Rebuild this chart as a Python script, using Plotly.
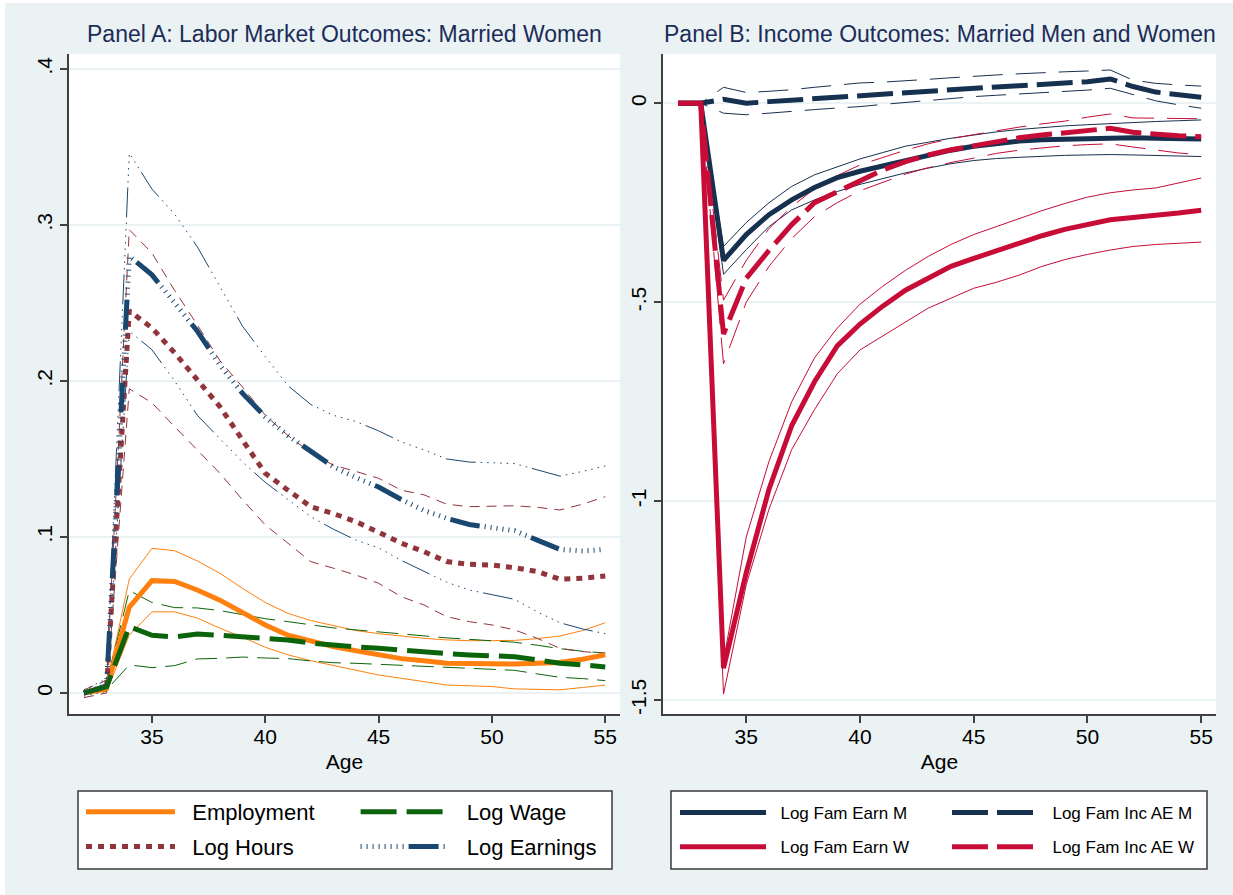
import plotly.graph_objects as go

ages = list(range(32, 56))

# ---------------- Panel A: Labor market outcomes, married women ----------------
employment = [0, 0.003, 0.055, 0.072, 0.0715, 0.066, 0.0595, 0.052, 0.0436, 0.037, 0.033, 0.0297,
              0.027, 0.0244, 0.022, 0.0207, 0.019, 0.0188, 0.0186, 0.0186, 0.019, 0.0195, 0.0216, 0.0244]
employment_hi = [0.001, 0.005, 0.073, 0.0927, 0.0912, 0.0846, 0.0767, 0.067, 0.058, 0.051, 0.0464, 0.043,
                 0.040, 0.038, 0.0365, 0.035, 0.034, 0.0335, 0.0335, 0.0337, 0.0348, 0.0365, 0.040, 0.045]
employment_lo = [-0.001, 0.001, 0.037, 0.052, 0.052, 0.048, 0.0415, 0.0357, 0.0293, 0.0244, 0.0207, 0.0175,
                 0.0147, 0.0115, 0.0094, 0.0073, 0.0051, 0.0046, 0.0041, 0.0026, 0.0025, 0.002, 0.0035, 0.005]

log_wage = [0, 0.004, 0.0425, 0.037, 0.0359, 0.0378, 0.037, 0.036, 0.0348, 0.034, 0.032, 0.0305,
            0.0295, 0.0286, 0.0273, 0.026, 0.0252, 0.0244, 0.024, 0.0232, 0.0212, 0.019, 0.018, 0.0167]
log_wage_hi = [0.001, 0.006, 0.0656, 0.058, 0.0547, 0.0545, 0.0528, 0.050, 0.0476, 0.0457, 0.0436, 0.0417,
               0.0404, 0.039, 0.0377, 0.0366, 0.0353, 0.0345, 0.0335, 0.0325, 0.0306, 0.0284, 0.0267, 0.0256]
log_wage_lo = [-0.001, 0.002, 0.018, 0.0162, 0.0175, 0.0218, 0.0222, 0.023, 0.0224, 0.022, 0.0205, 0.0194,
               0.019, 0.0184, 0.0175, 0.0171, 0.0162, 0.0157, 0.0152, 0.0145, 0.0122, 0.010, 0.0092, 0.0079]

log_hours = [0, 0.004, 0.245, 0.234, 0.218, 0.201, 0.1835, 0.162, 0.1408, 0.130, 0.1194, 0.115,
             0.1098, 0.103, 0.096, 0.0906, 0.0842, 0.0825, 0.082, 0.0803, 0.0778, 0.0729, 0.0735, 0.075]
log_hours_hi = [0.002, 0.008, 0.297, 0.282, 0.258, 0.236, 0.213, 0.196, 0.178, 0.165, 0.154, 0.146,
                0.142, 0.1376, 0.130, 0.127, 0.121, 0.1194, 0.1197, 0.120, 0.119, 0.1173, 0.121, 0.1258]
log_hours_lo = [-0.003, 0.0, 0.195, 0.186, 0.1707, 0.1558, 0.1408, 0.1237, 0.1077, 0.096, 0.0842, 0.080,
                0.0756, 0.0703, 0.0617, 0.0564, 0.0489, 0.0457, 0.0436, 0.0404, 0.035, 0.0286, 0.0265, 0.0254]

log_earn = [0, 0.005, 0.28, 0.268, 0.25, 0.232, 0.21, 0.192, 0.177, 0.165, 0.155, 0.145,
            0.138, 0.132, 0.124, 0.117, 0.112, 0.108, 0.106, 0.104, 0.098, 0.092, 0.091, 0.092]
log_earn_hi = [0.002, 0.009, 0.346, 0.323, 0.307, 0.286, 0.2605, 0.235, 0.2156, 0.197, 0.185, 0.178,
               0.174, 0.168, 0.161, 0.1558, 0.150, 0.148, 0.1476, 0.147, 0.143, 0.139, 0.142, 0.1455]
log_earn_lo = [-0.002, 0.001, 0.232, 0.22, 0.2, 0.178, 0.163, 0.148, 0.135, 0.124, 0.113, 0.105,
               0.098, 0.093, 0.085, 0.078, 0.071, 0.066, 0.063, 0.060, 0.052, 0.045, 0.041, 0.038]

# ---------------- Panel B: Income outcomes, married men and women ----------------
fam_earn_m = [0, 0, -0.395, -0.33, -0.28, -0.243, -0.212, -0.187, -0.171, -0.157, -0.143, -0.13,
              -0.118, -0.108, -0.1, -0.095, -0.092, -0.09, -0.088, -0.087, -0.087, -0.088, -0.089, -0.09]
fam_earn_m_hi = [0, 0, -0.36, -0.30, -0.25, -0.209, -0.18, -0.159, -0.14, -0.124, -0.108, -0.098,
                 -0.088, -0.08, -0.072, -0.066, -0.061, -0.057, -0.054, -0.051, -0.048, -0.046, -0.044, -0.042]
fam_earn_m_lo = [0, 0, -0.43, -0.368, -0.31, -0.268, -0.243, -0.222, -0.204, -0.19, -0.175, -0.163,
                 -0.152, -0.144, -0.139, -0.136, -0.133, -0.131, -0.13, -0.129, -0.13, -0.131, -0.133, -0.134]

fam_inc_m = [0, 0, 0.010, 0.0, 0.004, 0.008, 0.012, 0.015, 0.018, 0.022, 0.026, 0.030,
             0.034, 0.038, 0.041, 0.044, 0.047, 0.050, 0.054, 0.061, 0.042, 0.028, 0.020, 0.015]
fam_inc_m_hi = [0, 0, 0.040, 0.027, 0.030, 0.034, 0.040, 0.046, 0.051, 0.053, 0.056, 0.060,
                0.064, 0.068, 0.071, 0.074, 0.077, 0.079, 0.081, 0.0835, 0.058, 0.050, 0.046, 0.043]
fam_inc_m_lo = [0, 0, -0.025, -0.029, -0.025, -0.02, -0.016, -0.012, -0.0085, -0.003, 0.002, 0.007,
                0.012, 0.0166, 0.02, 0.023, 0.027, 0.03, 0.033, 0.0376, 0.021, 0.006, -0.004, -0.0126]

fam_earn_w = [0, 0, -1.42, -1.18, -0.97, -0.81, -0.70, -0.61, -0.555, -0.51, -0.47, -0.44,
              -0.41, -0.39, -0.37, -0.35, -0.333, -0.317, -0.304, -0.293, -0.287, -0.283, -0.276, -0.269]
fam_earn_w_hi = [0, 0, -1.40, -1.09, -0.90, -0.75, -0.64, -0.565, -0.505, -0.46, -0.42, -0.385,
                 -0.355, -0.33, -0.31, -0.29, -0.27, -0.252, -0.236, -0.225, -0.218, -0.213, -0.20, -0.188]
fam_earn_w_lo = [0, 0, -1.485, -1.21, -1.02, -0.87, -0.77, -0.68, -0.62, -0.585, -0.548, -0.515,
                 -0.49, -0.465, -0.45, -0.432, -0.41, -0.393, -0.38, -0.369, -0.36, -0.355, -0.352, -0.349]

fam_inc_w = [0, 0, -0.58, -0.44, -0.37, -0.305, -0.25, -0.222, -0.193, -0.168, -0.147, -0.13,
             -0.117, -0.106, -0.095, -0.087, -0.08, -0.074, -0.069, -0.063, -0.073, -0.079, -0.082, -0.084]
fam_inc_w_hi = [0, 0, -0.495, -0.395, -0.315, -0.26, -0.215, -0.182, -0.155, -0.137, -0.118, -0.102,
                -0.089, -0.079, -0.069, -0.06, -0.052, -0.045, -0.035, -0.027, -0.037, -0.038, -0.039, -0.039]
fam_inc_w_lo = [0, 0, -0.655, -0.50, -0.41, -0.34, -0.285, -0.25, -0.22, -0.198, -0.178, -0.162,
                -0.149, -0.138, -0.126, -0.118, -0.112, -0.107, -0.104, -0.102, -0.11, -0.118, -0.125, -0.13]

x_ticks = [35, 40, 45, 50, 55]
yA_ticks = [0, 0.1, 0.2, 0.3, 0.4]
yA_text = ["0", ".1", ".2", ".3", ".4"]
yB_ticks = [0, -0.5, -1, -1.5]
yB_text = ["0", "-.5", "-1", "-1.5"]

# ---------------- styles ----------------
FONT = "Liberation Sans, Arial, Helvetica, sans-serif"
BG = "#EAF2F3"
AXIS = "#404040"
ORANGE = "#FF800E"
GREEN = "#0B640B"
MAROON = "#90353B"
BLUE = "#1A476F"
NAVY = "#16304F"
CRIMSON = "#C60C37"

DOTTICK = "1px,5px," * 8 + "30px,5px"
DOTTICK_THIN = "1.5px,5px," * 8 + "30px,5px"

fig = go.Figure()


def add(x, y, color, width, dash, xa, ya, name=None, legend=None, pad=""):
    fig.add_trace(go.Scatter(
        x=x, y=y, mode="lines", xaxis=xa, yaxis=ya,
        line=dict(color=color, width=width, dash=dash),
        name=(pad + name) if name else "", showlegend=bool(name),
        legend=legend if legend else "legend",
        legendgroup=name if name else None,
        hoverinfo="skip"))


NB_A = "\u00a0\u00a0"
NB_B = "\u00a0\u00a0"

# Panel A confidence bands
add(ages, employment_hi, ORANGE, 1, "solid", "x", "y")
add(ages, employment_lo, ORANGE, 1, "solid", "x", "y")
add(ages, log_wage_hi, GREEN, 1, "22px,9px", "x", "y")
add(ages, log_wage_lo, GREEN, 1, "22px,9px", "x", "y")
add(ages, log_hours_hi, MAROON, 1, "10px,7px", "x", "y")
add(ages, log_hours_lo, MAROON, 1, "10px,7px", "x", "y")
add(ages, log_earn_hi, BLUE, 1, DOTTICK_THIN, "x", "y")
add(ages, log_earn_lo, BLUE, 1, DOTTICK_THIN, "x", "y")
# Panel A point estimates
add(ages, employment, ORANGE, 5, "solid", "x", "y", "Employment", "legend", NB_A)
add(ages, log_hours, MAROON, 5, "6px,6px", "x", "y", "Log Hours", "legend", NB_A)
add(ages, log_wage, GREEN, 5, "36px,10px", "x", "y", "Log Wage", "legend2", NB_A)
add(ages, log_earn, BLUE, 5, DOTTICK, "x", "y", "Log Earnings", "legend2", NB_A)

# Panel B confidence bands
add(ages, fam_earn_m_hi, NAVY, 1, "solid", "x2", "y2")
add(ages, fam_earn_m_lo, NAVY, 1, "solid", "x2", "y2")
add(ages, fam_inc_m_hi, NAVY, 1, "30px,13px", "x2", "y2")
add(ages, fam_inc_m_lo, NAVY, 1, "30px,13px", "x2", "y2")
add(ages, fam_earn_w_hi, CRIMSON, 1, "solid", "x2", "y2")
add(ages, fam_earn_w_lo, CRIMSON, 1, "solid", "x2", "y2")
add(ages, fam_inc_w_hi, CRIMSON, 1, "30px,13px", "x2", "y2")
add(ages, fam_inc_w_lo, CRIMSON, 1, "30px,13px", "x2", "y2")
# Panel B point estimates
add(ages, fam_earn_m, NAVY, 5, "solid", "x2", "y2", "Log Fam Earn M", "legend3", NB_B)
add(ages, fam_earn_w, CRIMSON, 5, "solid", "x2", "y2", "Log Fam Earn W", "legend3", NB_B)
add(ages, fam_inc_m, NAVY, 5, "36px,9px", "x2", "y2", "Log Fam Inc AE M", "legend4", NB_B)
add(ages, fam_inc_w, CRIMSON, 5, "36px,9px", "x2", "y2", "Log Fam Inc AE W", "legend4", NB_B)

W, H = 1233, 895
ydom = [(H - 714) / H, (H - 54) / H]


def xaxis(dom):
    return dict(domain=dom, range=[31.34, 55.65], tickvals=x_ticks, ticks="outside", ticklen=7,
                tickwidth=1.5, tickcolor=AXIS, showline=True, linecolor=AXIS, linewidth=1.5,
                showgrid=False, zeroline=False, tickfont=dict(size=21, color="black"),
                ticklabelstandoff=-4,
                title=dict(text="Age", font=dict(size=21, color="black"), standoff=7))


def yaxis(rng, tv, tt, anchor):
    return dict(domain=ydom, range=rng, tickvals=tv, ticktext=tt, tickangle=-90, ticks="outside",
                ticklen=7, tickwidth=1.5, tickcolor=AXIS, showline=True, linecolor=AXIS, linewidth=1.5,
                showgrid=True, gridcolor=BG, gridwidth=2, zeroline=False, anchor=anchor,
                tickfont=dict(size=21, color="black"))


def legend(x, top, size, iw, gap):
    return dict(x=x / W, y=(H - top) / H, xanchor="left", yanchor="top", orientation="v",
                bgcolor="rgba(0,0,0,0)", borderwidth=0, font=dict(size=size, color="black", family=FONT),
                itemwidth=iw, tracegroupgap=gap, traceorder="grouped", itemclick=False,
                itemdoubleclick=False)


fig.update_layout(
    width=W, height=H, margin=dict(l=0, r=0, t=0, b=0, autoexpand=False),
    paper_bgcolor=BG, plot_bgcolor="white", font=dict(family=FONT, color="black"),
    xaxis=xaxis([69 / W, 620 / W]) | dict(anchor="y"),
    yaxis=yaxis([-0.0135, 0.4096], yA_ticks, yA_text, "x"),
    xaxis2=xaxis([663 / W, 1216 / W]) | dict(anchor="y2"),
    yaxis2=yaxis([-1.535, 0.1237], yB_ticks, yB_text, "x2"),
    legend=legend(81, 791, 22, 89, 3),
    legend2=legend(355.6, 791, 22, 89, 3),
    legend3=legend(675, 795, 17, 86, 9),
    legend4=legend(947, 795, 17, 86, 9),
    showlegend=True,
)

# white page edge (top and left) as in the scanned original
fig.add_shape(type="rect", xref="paper", yref="paper", x0=0, x1=1, y0=(H - 3) / H, y1=1,
              fillcolor="white", line=dict(width=0), layer="below")
fig.add_shape(type="rect", xref="paper", yref="paper", x0=0, x1=5 / W, y0=0, y1=1,
              fillcolor="white", line=dict(width=0), layer="below")

# legend frames
for x0, x1 in [(78, 612), (671, 1207)]:
    fig.add_shape(type="rect", xref="paper", yref="paper", x0=x0 / W, x1=x1 / W,
                  y0=(H - 869) / H, y1=(H - 791) / H, fillcolor="white",
                  line=dict(color="#3a3a3a", width=1.5), layer="below")

# panel titles
for xc, txt in [((69 + 620) / 2, "Panel A: Labor Market Outcomes: Married Women"),
                ((663 + 1216) / 2, "Panel B: Income Outcomes: Married Men and Women")]:
    fig.add_annotation(x=xc / W, y=(H - 34) / H, xref="paper", yref="paper", text=txt,
                       showarrow=False, xanchor="center", yanchor="middle",
                       font=dict(size=23, color="#1C2C59", family=FONT))

fig.write_html("out.html", config={"displayModeBar": False},
               post_script="document.body.style.margin='0px';")
